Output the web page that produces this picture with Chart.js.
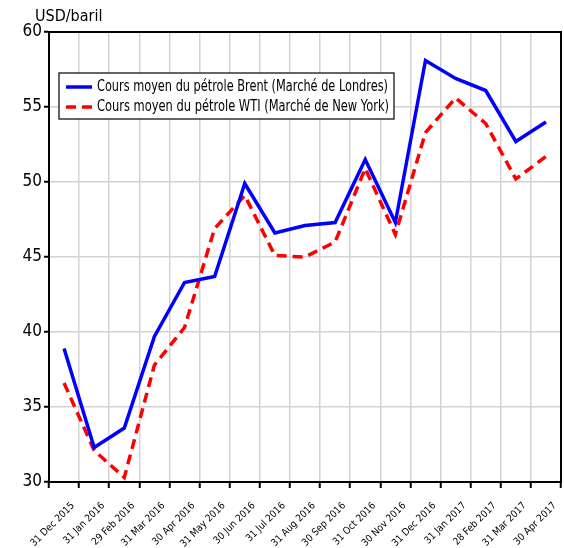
<!DOCTYPE html>
<html>
<head>
<meta charset="utf-8">
<script src="https://cdn.jsdelivr.net/npm/chart.js@4/dist/chart.umd.min.js"></script>
<style>
  html, body { margin: 0; padding: 0; background: #fff; }
  #wrap { width: 564px; height: 548px; position: relative; }
</style>
</head>
<body>
<div id="wrap"><canvas id="petrole"></canvas></div>
<script>
// Données (USD/baril), fin de mois
const mois = ['31 Dec 2015', '31 Jan 2016', '29 Feb 2016', '31 Mar 2016', '30 Apr 2016', '31 May 2016',
  '30 Jun 2016', '31 Jul 2016', '31 Aug 2016', '30 Sep 2016', '31 Oct 2016', '30 Nov 2016',
  '31 Dec 2016', '31 Jan 2017', '28 Feb 2017', '31 Mar 2017', '30 Apr 2017'];
const brent = [38.9, 32.3, 33.6, 39.7, 43.3, 43.7, 49.9, 46.6, 47.1, 47.3, 51.5, 47.3, 58.1, 56.9, 56.1, 52.7, 54.0];
const wti = [36.6, 32.1, 30.3, 37.8, 40.3, 46.9, 49.1, 45.1, 45.0, 46.0, 50.9, 46.5, 53.3, 55.6, 53.9, 50.2, 51.7];
const yTicks = [30, 35, 40, 45, 50, 55, 60];

const POLICE = "'Liberation Sans Narrow', 'DejaVu Sans Condensed', 'Liberation Sans', sans-serif";

// texte compressé horizontalement pour imiter une police étroite
function texteEtroit(c, txt, x, y, largeur) {
  const w = c.measureText(txt).width;
  const k = Math.min(1, largeur / w);
  c.save();
  c.translate(x, y);
  c.scale(k, 1);
  c.fillText(txt, 0, 0);
  c.restore();
}

// cadre, titre et légende dessinés à la main
const habillage = {
  id: 'habillage',
  afterDraw(chart) {
    const c = chart.ctx;
    const a = chart.chartArea;
    c.save();
    // cadre noir
    c.strokeStyle = '#000';
    c.lineWidth = 2;
    c.strokeRect(a.left, a.top, a.right - a.left, a.bottom - a.top);
    // titre
    c.fillStyle = '#000';
    c.font = '16px ' + POLICE;
    c.textAlign = 'left';
    c.textBaseline = 'middle';
    texteEtroit(c, 'USD/baril', a.left - 14, a.top - 15, 70);
    // légende
    const bx = a.left + 10, by = a.top + 41, bw = 335, bh = 46;
    c.fillStyle = '#fff';
    c.fillRect(bx, by, bw, bh);
    c.lineWidth = 1.2;
    c.strokeStyle = '#000';
    c.strokeRect(bx, by, bw, bh);
    chart.data.datasets.forEach((ds, i) => {
      const yy = by + 14 + i * 20;
      c.beginPath();
      c.strokeStyle = ds.borderColor;
      c.lineWidth = 3.5;
      c.setLineDash(ds.borderDash || []);
      c.moveTo(bx + 7, yy);
      c.lineTo(bx + 33, yy);
      c.stroke();
      c.setLineDash([]);
      c.fillStyle = '#000';
      c.font = '15px ' + POLICE;
      texteEtroit(c, ds.label, bx + 38, yy, i === 0 ? 291 : 292);
    });
    c.restore();
  }
};

const ctx = document.getElementById('petrole').getContext('2d');
const chart = new Chart(ctx, {
  type: 'line',
  data: {
    labels: mois,
    datasets: [{
      label: 'Cours moyen du pétrole Brent (Marché de Londres)',
      data: brent,
      borderColor: '#0000ff',
      borderWidth: 3.5,
      pointRadius: 0,
      tension: 0,
      fill: false
    }, {
      label: 'Cours moyen du pétrole WTI (Marché de New York)',
      data: wti,
      borderColor: '#ff0000',
      borderWidth: 3.5,
      borderDash: [10, 6],
      pointRadius: 0,
      tension: 0,
      fill: false
    }]
  },
  options: {
    responsive: true,
    maintainAspectRatio: false,
    animation: false,
    layout: { padding: { top: 32, right: 0, left: 0, bottom: 0 } },
    plugins: {
      legend: { display: false },
      title: { display: false },
      tooltip: { enabled: false }
    },
    scales: {
      x: {
        type: 'category',
        offset: true,
        grid: { offset: true, color: '#d3d3d3', lineWidth: 1.5, tickColor: '#000', tickLength: 6, tickWidth: 2 },
        border: { color: '#000', width: 2 },
        ticks: {
          color: '#000',
          font: { family: POLICE, size: 10 },
          maxRotation: 45,
          minRotation: 45,
          autoSkip: false,
          labelOffset: 9,
          padding: 12
        },
        afterFit(s) { s.height = 66; s.paddingRight = 3; }
      },
      y: {
        min: 30,
        max: 60,
        afterBuildTicks(s) { s.ticks = yTicks.map(v => ({ value: v })); },
        grid: { color: '#d3d3d3', lineWidth: 1.5, tickColor: '#000', tickLength: 5, tickWidth: 2 },
        border: { color: '#000', width: 2 },
        ticks: {
          color: '#000',
          font: { family: POLICE, size: 17 },
          padding: 2
        },
        afterFit(s) { s.width = 49; }
      }
    }
  },
  plugins: [habillage]
});
</script>
</body>
</html>
